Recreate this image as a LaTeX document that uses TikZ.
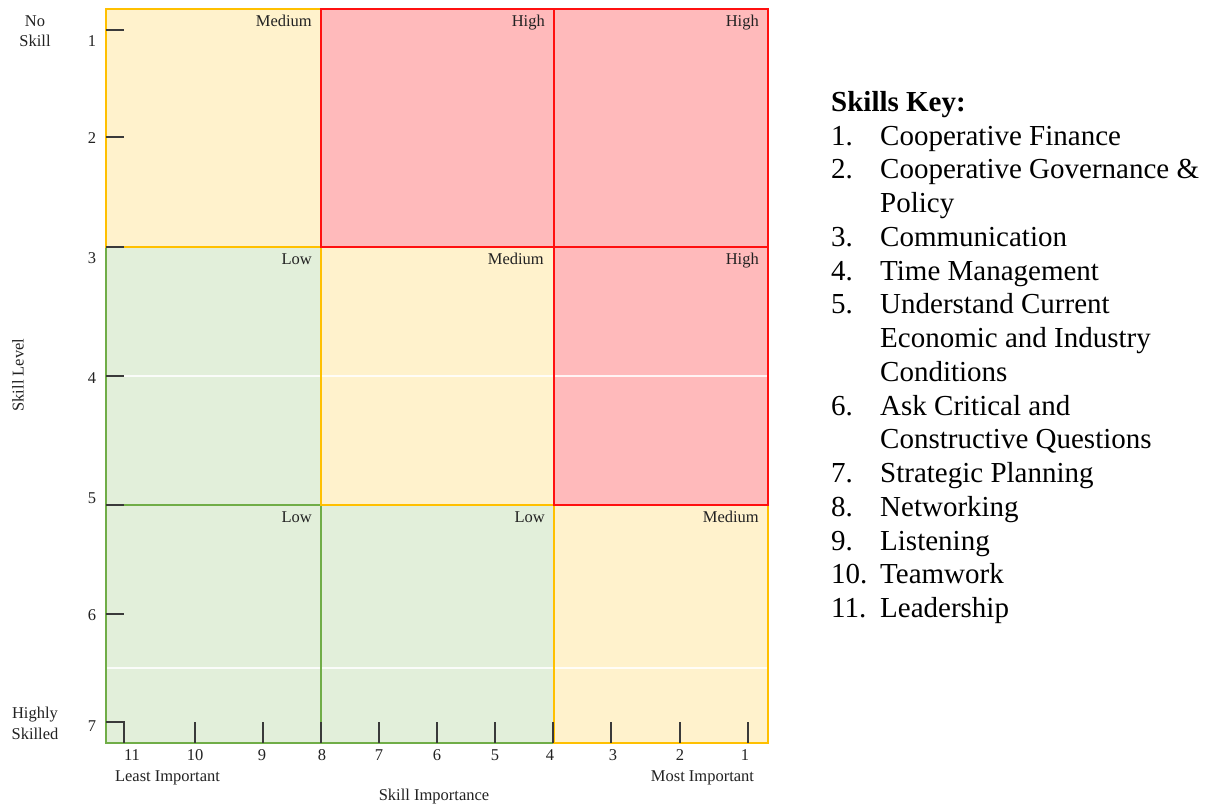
\documentclass[tikz,border=0pt]{standalone}
\usepackage{fontspec}
\setmainfont{Liberation Serif}
\definecolor{yfill}{HTML}{FFF2CC}
\definecolor{yline}{HTML}{FFC000}
\definecolor{rfill}{HTML}{FFBABB}
\definecolor{rline}{HTML}{FF1010}
\definecolor{gfill}{HTML}{E2EFDA}
\definecolor{gline}{HTML}{70AD47}
\definecolor{tickc}{HTML}{3A3A3A}
\definecolor{txt}{HTML}{222222}
\tikzset{
  small/.style={font=\fontsize{16.5}{18}\selectfont, text=txt, inner sep=0pt},
  cornerlbl/.style={small, anchor=base east},
  axlbl/.style={small, anchor=base},
  keytxt/.style={font=\fontsize{29}{33.75}\selectfont, text=black, inner sep=0pt, anchor=base west},
  gborder/.style={draw=gline, line width=2pt},
  yborder/.style={draw=yline, line width=2pt},
  rborder/.style={draw=rline, line width=2pt},
  tickline/.style={draw=tickc, line width=1.4pt},
  faint/.style={draw=white, line width=1.3pt, opacity=0.85}
}
\begin{document}
\begin{tikzpicture}[x=1pt,y=-1pt]
\useasboundingbox (0,0) rectangle (1207,803);
\fill[white] (0,0) rectangle (1207,803);
% cell fills
\fill[yfill] (106,9) rectangle (321,247);
\fill[rfill] (321,9) rectangle (554,247);
\fill[rfill] (554,9) rectangle (768,247);
\fill[gfill] (106,247) rectangle (321,505);
\fill[yfill] (321,247) rectangle (554,505);
\fill[rfill] (554,247) rectangle (768,505);
\fill[gfill] (106,505) rectangle (321,743);
\fill[gfill] (321,505) rectangle (554,743);
\fill[yfill] (554,505) rectangle (768,743);
% faint gridlines
\coordinate (fa1) at (107,376);
\coordinate (fa2) at (767,376);
\coordinate (fb1) at (107,668);
\coordinate (fb2) at (767,668);
\draw[faint] (fa1) -- (fa2);
\draw[faint] (fb1) -- (fb2);
% borders
\draw[gborder] (106,247) rectangle (321,505);
\draw[gborder] (106,505) rectangle (321,743);
\draw[gborder] (321,505) rectangle (554,743);
\draw[yborder] (106,9) rectangle (321,247);
\draw[yborder] (321,247) rectangle (554,505);
\draw[yborder] (554,505) rectangle (768,743);
\draw[rborder] (321,9) rectangle (554,247);
\draw[rborder] (554,9) rectangle (768,247);
\draw[rborder] (554,247) rectangle (768,505);
% cell labels
\node[cornerlbl] (c11) at (312,26.5) {Medium};
\node[cornerlbl] (c12) at (545,26.5) {High};
\node[cornerlbl] (c13) at (759,26.5) {High};
\node[cornerlbl] (c21) at (312,264.5) {Low};
\node[cornerlbl] (c22) at (544,264.5) {Medium};
\node[cornerlbl] (c23) at (759,264.5) {High};
\node[cornerlbl] (c31) at (312,522.5) {Low};
\node[cornerlbl] (c32) at (545,522.5) {Low};
\node[cornerlbl] (c33) at (759,522.5) {Medium};
% left ticks
\foreach \yy in {30,137,247,376,505,614}{
  \draw[tickline] (106,\yy) -- (124,\yy);
}
\draw[tickline] (106,722) -- (124,722) -- (124,743);
% bottom ticks
\foreach \xx in {195,263,321,379,437,495,553,611,680,748}{
  \draw[tickline] (\xx,722) -- (\xx,743);
}
% left axis labels
\node[axlbl] (l1) at (92,46.5) {1};
\node[axlbl] (l2) at (92,143.5) {2};
\node[axlbl] (l3) at (92,263.5) {3};
\node[axlbl] (l4) at (92,383) {4};
\node[axlbl] (l5) at (92,503) {5};
\node[axlbl] (l6) at (92,620) {6};
\node[axlbl] (l7) at (92,731) {7};
\node[axlbl] (noa) at (35,26.5) {No};
\node[axlbl] (nob) at (35,46.5) {Skill};
\node[axlbl] (hsa) at (35,718.5) {Highly};
\node[axlbl] (hsb) at (35,739) {Skilled};
\node[small, rotate=90] (slev) at (18,375) {Skill Level};
% bottom axis labels
\node[axlbl] (b11) at (132,760) {11};
\node[axlbl] (b10) at (195,760) {10};
\node[axlbl] (b9) at (262,760) {9};
\node[axlbl] (b8) at (322,760) {8};
\node[axlbl] (b7) at (379,760) {7};
\node[axlbl] (b6) at (437,760) {6};
\node[axlbl] (b5) at (495,760) {5};
\node[axlbl] (b4) at (550,760) {4};
\node[axlbl] (b3) at (613,760) {3};
\node[axlbl] (b2) at (680,760) {2};
\node[axlbl] (b1) at (745,760) {1};
\node[axlbl] (least) at (167.5,781) {Least Important};
\node[axlbl] (most) at (702.5,781) {Most Important};
\node[axlbl] (simp) at (434,800) {Skill Importance};
% key
\node[keytxt] (keyh) at (831,111) {\textbf{Skills Key:}};
\foreach \n/\t/\yy in {1./Cooperative Finance/145, 2./Cooperative Governance \&/178.75, /Policy/212.5, 3./Communication/246.25, 4./Time Management/280, 5./Understand Current/313.75, /Economic and Industry/347.5, /Conditions/381.25, 6./Ask Critical and/415, /Constructive Questions/448.75, 7./Strategic Planning/482.5, 8./Networking/516.25, 9./Listening/550, 10./Teamwork/583.75, 11./Leadership/617.5}{
  \node[keytxt] at (831,\yy) {\n};
  \node[keytxt] at (880,\yy) {\t};
}
\end{tikzpicture}
\end{document}
